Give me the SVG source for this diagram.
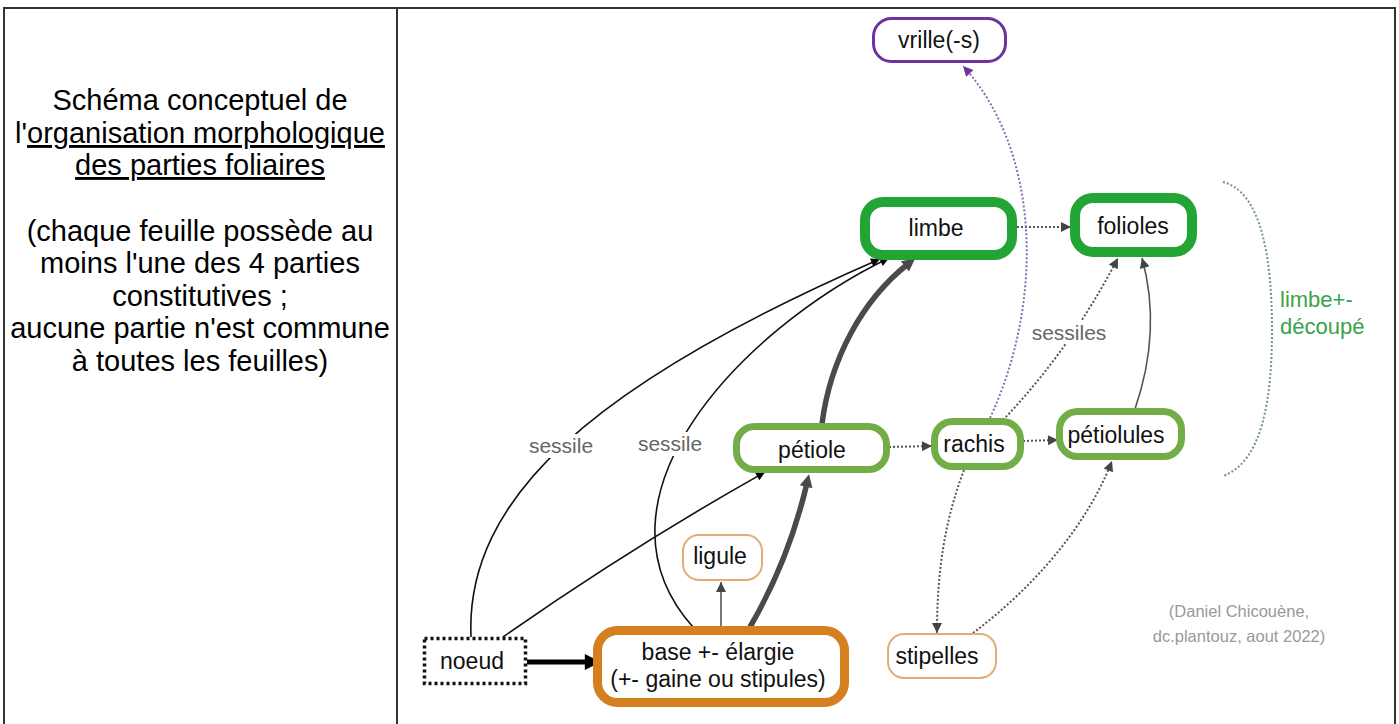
<svg xmlns="http://www.w3.org/2000/svg" width="1399" height="724" viewBox="0 0 1399 724">
<style>
  text { font-family: "Liberation Sans", Arial, sans-serif; }
  .frame { stroke: #333; stroke-width: 2; fill: none; }
  .intro { font-size: 29px; fill: #000; text-anchor: middle; }
  .u { text-decoration: underline; }
  .nt { font-size: 23px; fill: #111; text-anchor: middle; }
  .lbl { font-size: 21px; fill: #666; text-anchor: middle; }
  .bg { fill: #fff; stroke: none; }
  .n-green { fill: #fff; stroke: #22a534; stroke-width: 10; }
  .n-lgreen { fill: #fff; stroke: #72ad48; stroke-width: 7; }
  .n-orange { fill: #fff; stroke: #d4801f; stroke-width: 9; }
  .n-lorange { fill: #fff; stroke: #e2ae78; stroke-width: 2; }
  .n-purple { fill: #fff; stroke: #7030a0; stroke-width: 3; }
  .n-dot { fill: #fff; stroke: #111; stroke-width: 3.5; stroke-dasharray: 3 3; }
  .c-thin { fill: none; stroke: #111; stroke-width: 1.6; }
  .c-gray { fill: none; stroke: #555; stroke-width: 1.6; }
  .c-thick { fill: none; stroke: #4a4a4a; stroke-width: 5.5; }
  .c-big { fill: none; stroke: #000; stroke-width: 5; }
  .c-dot { fill: none; stroke: #555; stroke-width: 2; stroke-dasharray: 2 2; }
  .c-purple { fill: none; stroke: #8e6ab0; stroke-width: 2; stroke-dasharray: 2 2; }
  .c-bracket { fill: none; stroke: #6f9a6f; stroke-width: 2; stroke-dasharray: 2 2; }
</style>
<defs>
  <marker id="aBlack" viewBox="0 0 10 10" refX="10" refY="5" markerWidth="13" markerHeight="9" markerUnits="userSpaceOnUse" orient="auto">
    <path d="M0,0 L10,5 L0,10 z" fill="#000"/>
  </marker>
  <marker id="aGray" viewBox="0 0 10 10" refX="10" refY="5" markerWidth="13" markerHeight="10" markerUnits="userSpaceOnUse" orient="auto">
    <path d="M0,0 L10,5 L0,10 z" fill="#444"/>
  </marker>
  <marker id="aThick" viewBox="0 0 10 10" refX="3" refY="5" markerWidth="16" markerHeight="13" markerUnits="userSpaceOnUse" orient="auto">
    <path d="M0,0 L10,5 L0,10 z" fill="#4a4a4a"/>
  </marker>
  <marker id="aBig" viewBox="0 0 10 10" refX="2" refY="5" markerWidth="20" markerHeight="16" markerUnits="userSpaceOnUse" orient="auto">
    <path d="M0,0 L10,5 L0,10 z" fill="#000"/>
  </marker>
  <marker id="aPurple" viewBox="0 0 10 10" refX="10" refY="5" markerWidth="12" markerHeight="10" markerUnits="userSpaceOnUse" orient="auto">
    <path d="M0,0 L10,5 L0,10 z" fill="#7030a0"/>
  </marker>
</defs>

<rect width="1399" height="724" fill="#fff"/>

<g id="frame">
  <path class="frame" d="M4,730 L4,8 L1395,8 L1395,730"/>
  <line class="frame" x1="397" y1="8" x2="397" y2="730"/>
</g>

<g id="intro">
  <text class="intro" x="200" y="110">Schéma conceptuel de</text>
  <text class="intro" x="200" y="143">l'<tspan class="u">organisation morphologique</tspan></text>
  <text class="intro" x="200" y="175"><tspan class="u">des parties foliaires</tspan></text>
  <text class="intro" x="200" y="241">(chaque feuille possède au</text>
  <text class="intro" x="200" y="273">moins l'une des 4 parties</text>
  <text class="intro" x="200" y="306">constitutives ;</text>
  <text class="intro" x="200" y="338">aucune partie n'est commune</text>
  <text class="intro" x="200" y="371">à toutes les feuilles)</text>
</g>

<g id="connectors">
  <path class="c-big" d="M527,662 L588,662" marker-end="url(#aBig)"/>
  <path class="c-thin" d="M503,637 Q630,548 765,472" marker-end="url(#aBlack)"/>
  <path class="c-thin" d="M471,637 C465,500 590,385 880,259" marker-end="url(#aBlack)"/>
  <path class="c-thin" d="M693,627 C580,500 740,330 889,258" marker-end="url(#aBlack)"/>
  <path class="c-gray" d="M721,626 L721,582" marker-end="url(#aGray)"/>
  <path class="c-thick" d="M750,627 Q789,560 807,483" marker-end="url(#aThick)"/>
  <path class="c-thick" d="M822,424 C830,360 862,300 908,264" marker-end="url(#aThick)"/>
  <path class="c-dot" d="M889,447 L932,446" marker-end="url(#aGray)"/>
  <path class="c-dot" d="M1017,227 L1071,227" marker-end="url(#aGray)"/>
  <path class="c-dot" d="M1023,441 L1058,440" marker-end="url(#aGray)"/>
  <path class="c-dot" d="M1003,420 Q1070,350 1118,258" marker-end="url(#aGray)"/>
  <path class="c-gray" d="M1135,409 Q1162,330 1142,258" marker-end="url(#aGray)"/>
  <path class="c-dot" d="M964,470 C945,520 937,570 937,633" marker-end="url(#aGray)"/>
  <path class="c-dot" d="M973,633 C1030,590 1085,530 1112,461" marker-end="url(#aGray)"/>
  <path class="c-purple" d="M990,418 C1045,300 1040,150 963,66" marker-end="url(#aPurple)"/>
  <path class="c-bracket" d="M1223,182 C1262,192 1272,260 1272,330 C1272,400 1262,462 1223,476"/>
</g>

<g id="connector-labels">
  <rect class="bg" x="526" y="434" width="70" height="24"/>
  <text class="lbl" x="561" y="453">sessile</text>
  <rect class="bg" x="636" y="432" width="70" height="24"/>
  <text class="lbl" x="670" y="451">sessile</text>
  <rect class="bg" x="1030" y="320" width="80" height="24"/>
  <text class="lbl" x="1069" y="340">sessiles</text>
</g>

<g id="node-vrille">
  <rect class="n-purple" x="873.5" y="18.5" width="132" height="43" rx="18"/>
  <text class="nt" x="939" y="48">vrille(-s)</text>
</g>
<g id="node-limbe">
  <rect class="n-green" x="865" y="202" width="147" height="53" rx="18"/>
  <text class="nt" x="936" y="236">limbe</text>
</g>
<g id="node-folioles">
  <rect class="n-green" x="1075" y="198" width="117" height="54" rx="18"/>
  <text class="nt" x="1133" y="234">folioles</text>
</g>
<g id="node-petiole">
  <rect class="n-lgreen" x="736.5" y="426.5" width="150" height="43" rx="18"/>
  <text class="nt" x="812" y="458">pétiole</text>
</g>
<g id="node-rachis">
  <rect class="n-lgreen" x="934.5" y="421.5" width="86" height="45" rx="18"/>
  <text class="nt" x="974" y="452">rachis</text>
</g>
<g id="node-petiolules">
  <rect class="n-lgreen" x="1059.5" y="411.5" width="122" height="45" rx="18"/>
  <text class="nt" x="1116" y="443">pétiolules</text>
</g>
<g id="node-ligule">
  <rect class="n-lorange" x="683" y="535" width="79" height="45" rx="16"/>
  <text class="nt" x="720" y="564">ligule</text>
</g>
<g id="node-base">
  <rect class="n-orange" x="597.5" y="630.5" width="247" height="72" rx="20"/>
  <text class="nt" x="718" y="660">base +- élargie</text>
  <text class="nt" x="718" y="687">(+- gaine ou stipules)</text>
</g>
<g id="node-noeud">
  <rect class="n-dot" x="424.5" y="638.5" width="101" height="45"/>
  <text class="nt" x="472" y="669">noeud</text>
</g>
<g id="node-stipelles">
  <rect class="n-lorange" x="888" y="634" width="108" height="44" rx="16"/>
  <text class="nt" x="937" y="664">stipelles</text>
</g>

<g id="annotations">
  <text x="1280" y="307" font-size="22" fill="#3aa24a">limbe+-</text>
  <text x="1280" y="334" font-size="22" fill="#3aa24a">découpé</text>
  <text x="1239" y="617" font-size="16.5" fill="#999" text-anchor="middle">(Daniel Chicouène,</text>
  <text x="1239" y="642" font-size="16.5" fill="#999" text-anchor="middle">dc.plantouz, aout 2022)</text>
</g>
</svg>
